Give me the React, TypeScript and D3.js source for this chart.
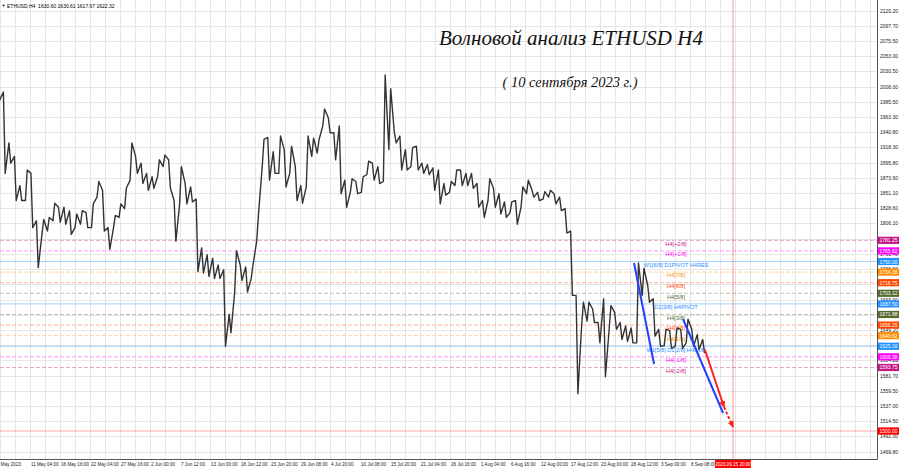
import * as d3 from "d3";
import { useEffect, useRef } from "react";

const width = 900;
const height = 468;
const plotRight = 877;
const plotBottom = 459;

const header = "ETHUSD,H4  1630.60 1630.61 1617.67 1622.32";
const title = "Волновой анализ ETHUSD H4";
const subtitle = "( 10 сентября 2023 г.)";

const priceTicks = [
  2120.2, 2097.7, 2075.5, 2053.0, 2030.5, 2008.0, 1985.5, 1963.3, 1940.8, 1918.3,
  1895.8, 1873.6, 1851.1, 1828.6, 1806.1, 1783.6, 1761.4, 1738.9, 1716.4, 1693.9,
  1671.7, 1649.2, 1626.7, 1604.2, 1581.7, 1559.5, 1537.0, 1514.5, 1492.0, 1469.8,
];

const firstDate = "5 May 2023";
const dateTicks = [
  "11 May 04:00", "16 May 16:00", "22 May 04:00", "27 May 16:00", "2 Jun 00:00",
  "7 Jun 12:00", "13 Jun 00:00", "18 Jun 12:00", "23 Jun 20:00", "29 Jun 08:00",
  "4 Jul 20:00", "10 Jul 08:00", "15 Jul 20:00", "21 Jul 04:00", "26 Jul 16:00",
  "1 Aug 04:00", "6 Aug 16:00", "12 Aug 00:00", "17 Aug 12:00", "23 Aug 00:00",
  "28 Aug 12:00", "3 Sep 00:00", "8 Sep 08:00",
];
const futureDate = "2023.09.15 20:00";
const futureDay = 133.83; // days since 5 May 00:00

// daily high / low since 5 May 2023
const dayHigh = [
  2010, 2000, 1925, 1905, 1862, 1885, 1880, 1810, 1812, 1815,
  1836, 1830, 1830, 1825, 1820, 1825, 1822, 1835, 1868, 1855,
  1800, 1818, 1835, 1858, 1925, 1905, 1895, 1880, 1875, 1900,
  1907, 1900, 1840, 1890, 1865, 1860, 1842, 1770, 1760, 1755,
  1745, 1738, 1672, 1766, 1745, 1742, 1745, 1820, 1930, 1933,
  1912, 1935, 1915, 1920, 1890, 1862, 1935, 1932, 1930, 1975,
  1962, 1940, 1950, 1870, 1872, 1868, 1875, 1898, 1895, 1890,
  2025, 2005, 1940, 1935, 1915, 1918, 1920, 1895, 1893, 1888,
  1885, 1865, 1868, 1885, 1885, 1880, 1880, 1865, 1840, 1872,
  1858, 1850, 1838, 1838, 1840, 1860, 1870, 1855, 1852, 1853,
  1855, 1850, 1845, 1828, 1795, 1700, 1690, 1690, 1680, 1660,
  1695, 1685, 1675, 1660, 1655, 1652, 1748, 1740, 1715, 1695,
  1650, 1650, 1648, 1652, 1650, 1665, 1650, 1642, 1635,
];
const dayLow = [
  1988, 1880, 1895, 1840, 1840, 1840, 1800, 1741, 1790, 1795,
  1810, 1808, 1805, 1790, 1800, 1805, 1800, 1800, 1845, 1795,
  1768, 1800, 1815, 1828, 1870, 1880, 1865, 1855, 1858, 1875,
  1890, 1858, 1780, 1835, 1835, 1838, 1735, 1733, 1728, 1725,
  1725, 1625, 1645, 1705, 1722, 1705, 1725, 1780, 1890, 1870,
  1880, 1880, 1860, 1880, 1840, 1836, 1860, 1905, 1910, 1950,
  1940, 1900, 1850, 1830, 1852, 1850, 1852, 1878, 1870, 1865,
  1868, 1915, 1925, 1885, 1885, 1890, 1885, 1880, 1878, 1855,
  1835, 1848, 1852, 1862, 1862, 1862, 1858, 1830, 1815, 1840,
  1830, 1820, 1815, 1822, 1805, 1830, 1850, 1845, 1840, 1842,
  1845, 1835, 1825, 1792, 1700, 1555, 1655, 1662, 1660, 1630,
  1580, 1650, 1650, 1635, 1632, 1630, 1630, 1700, 1690, 1640,
  1625, 1626, 1622, 1625, 1622, 1630, 1625, 1620, 1615,
];

const levelPrices = [
  1781.25, 1765.62, 1750.0, 1734.38, 1718.75, 1703.12, 1687.5,
  1671.88, 1656.25, 1640.62, 1625.0, 1609.38, 1593.75,
];
const levelNames = [
  "H4[+2/8]", "H4[+1/8]", "W1[6/8] D1PIVOT H4RES", "H4[7/8]", "H4[6/8]", "H4[5/8]",
  "D1[3/8] H4PIVOT", "H4[3/8]", "H4[2/8]", "H4[1/8]", "W1[5/8] D1[2/8] H4SUP",
  "H4[-1/8]", "H4[-2/8]",
];
const targetPrice = 1500;

// wave lines and forecast, as [day, price]
const waveLines: [number, number][][] = [
  [[115.86, 1747.8], [119.49, 1598.9]],
  [[124.75, 1665.2], [132.02, 1526.6]],
];
const forecastSolid: [number, number][] = [[128.75, 1619.5], [132.2, 1535.4]];
const forecastDashed: [number, number][] = [[132.2, 1535.4], [133.83, 1505.9]];

const font = "Liberation Sans, Arial, sans-serif";

const levelColor = (name: string) => {
  if (/PIVOT|RES|SUP/.test(name)) return "#1e90ff";
  if (/[+-]2\/8/.test(name)) return "#c71585";
  if (/[+-]1\/8/.test(name)) return "#ff00ff";
  if (/[71]\/8/.test(name)) return "#ff8c00";
  if (/[62]\/8/.test(name)) return "#ff4500";
  return "#556b2f";
};

const App = () => {
  const ref = useRef<SVGSVGElement | null>(null);

  useEffect(() => {
    if (!ref.current) return;
    const svg = d3.select(ref.current);
    svg.selectAll("*").remove();

    const y = d3.scaleLinear().domain([1469.8, 2120.2]).range([451.5, 10.5]);
    const x = d3.scaleLinear().domain([6.1667, futureDay]).range([30, 733]);
    const tickX = d3.scaleLinear().domain([0, dateTicks.length - 1]).range([30, 690]);

    const defs = svg.append("defs");
    defs.append("clipPath").attr("id", "plot")
      .append("rect").attr("x", 0).attr("y", 0).attr("width", plotRight).attr("height", plotBottom);
    defs.append("marker")
      .attr("id", "arrow").attr("viewBox", "0 0 10 10").attr("refX", 9).attr("refY", 5)
      .attr("markerWidth", 3.2).attr("markerHeight", 3.2).attr("orient", "auto")
      .append("path").attr("d", "M0,0L10,5L0,10z").attr("fill", "#ff2020");

    svg.append("rect").attr("width", width).attr("height", height).attr("fill", "#fff");

    const plot = svg.append("g").attr("clip-path", "url(#plot)");

    // grid
    const gridIdx = d3.range(-2, 29.5, 0.5);
    plot.selectAll(".vg").data(gridIdx).join("line")
      .attr("x1", (d) => Math.round(tickX(d)) + 0.5).attr("x2", (d) => Math.round(tickX(d)) + 0.5)
      .attr("y1", 0).attr("y2", plotBottom)
      .attr("stroke", "#e6e6e6").attr("stroke-width", 1);
    plot.selectAll(".hg").data(priceTicks).join("line")
      .attr("x1", 0).attr("x2", plotRight)
      .attr("y1", (d) => Math.round(y(d)) + 0.5).attr("y2", (d) => Math.round(y(d)) + 0.5)
      .attr("stroke", "#e6e6e6").attr("stroke-width", 1);

    // levels
    plot.selectAll(".lv").data(levelPrices).join("line")
      .attr("x1", 0).attr("x2", plotRight)
      .attr("y1", (d) => y(d)).attr("y2", (d) => y(d))
      .attr("stroke", (d, i) => levelColor(levelNames[i]))
      .attr("stroke-opacity", 0.4)
      .attr("stroke-width", 1)
      .attr("stroke-dasharray", (d, i) => (/PIVOT|RES|SUP/.test(levelNames[i]) ? null : "4,2"));
    plot.append("line")
      .attr("x1", 0).attr("x2", plotRight)
      .attr("y1", y(targetPrice)).attr("y2", y(targetPrice))
      .attr("stroke", "#ff0000").attr("stroke-opacity", 0.35).attr("stroke-width", 1.2);

    plot.selectAll(".lt").data(levelNames).join("text")
      .attr("x", 676).attr("y", (d, i) => y(levelPrices[i]) + 3.3)
      .attr("text-anchor", "middle").attr("dominant-baseline", "central")
      .attr("font-family", font).attr("font-size", 5.6)
      .attr("fill", (d) => levelColor(d))
      .text((d) => d);

    // future time line
    plot.append("line")
      .attr("x1", x(futureDay)).attr("x2", x(futureDay)).attr("y1", 0).attr("y2", plotBottom)
      .attr("stroke", "#ff0000").attr("stroke-opacity", 0.4).attr("stroke-width", 1);

    // price
    const pts: [number, number][] = [];
    dayHigh.forEach((h, i) => {
      const l = dayLow[i];
      const prevMid = i ? (dayHigh[i - 1] + dayLow[i - 1]) / 2 : h;
      const rising = (h + l) / 2 > prevMid;
      const cx = x(i + 0.5);
      if (rising) {
        pts.push([cx - 0.9, y(l)], [cx + 0.9, y(h)]);
      } else {
        pts.push([cx - 0.9, y(h)], [cx + 0.9, y(l)]);
      }
    });
    plot.append("path")
      .attr("d", d3.line()(pts))
      .attr("fill", "none").attr("stroke", "#333").attr("stroke-width", 1.4)
      .attr("stroke-linejoin", "round");

    // wave lines
    const line = d3.line<[number, number]>().x((d) => x(d[0])).y((d) => y(d[1]));
    waveLines.forEach((w) => {
      plot.append("path").attr("d", line(w)).attr("fill", "none")
        .attr("stroke", "#2040ff").attr("stroke-width", 2);
    });
    plot.append("path").attr("d", line(forecastSolid)).attr("fill", "none")
      .attr("stroke", "#ff2020").attr("stroke-width", 2).attr("marker-end", "url(#arrow)");
    plot.append("path").attr("d", line(forecastDashed)).attr("fill", "none")
      .attr("stroke", "#ff2020").attr("stroke-width", 2).attr("stroke-dasharray", "3,2")
      .attr("marker-end", "url(#arrow)");

    // titles
    svg.append("text").attr("x", 571).attr("y", 38)
      .attr("text-anchor", "middle").attr("dominant-baseline", "central")
      .attr("font-family", "Liberation Serif, serif").attr("font-style", "italic")
      .attr("font-size", 21).attr("fill", "#111").text(title);
    svg.append("text").attr("x", 570).attr("y", 82)
      .attr("text-anchor", "middle").attr("dominant-baseline", "central")
      .attr("font-family", "Liberation Serif, serif").attr("font-style", "italic")
      .attr("font-size", 14.5).attr("fill", "#111").text(subtitle);

    // header
    svg.append("text").attr("x", 1.5).attr("y", 5.5).attr("dominant-baseline", "central")
      .attr("font-size", 4).attr("fill", "#000").text("▼");
    svg.append("text").attr("x", 7).attr("y", 5.5).attr("dominant-baseline", "central")
      .attr("font-family", font).attr("font-size", 5)
      .attr("fill", "#000").attr("xml:space", "preserve").text(header);

    // frame
    svg.append("line").attr("x1", plotRight + 0.5).attr("x2", plotRight + 0.5)
      .attr("y1", 0).attr("y2", plotBottom + 0.5).attr("stroke", "#555");
    svg.append("line").attr("x1", 0).attr("x2", plotRight + 0.5)
      .attr("y1", plotBottom + 0.5).attr("y2", plotBottom + 0.5).attr("stroke", "#555");

    // price axis
    svg.selectAll(".pt").data(priceTicks).join("text")
      .attr("x", 880).attr("y", (d) => y(d))
      .attr("dominant-baseline", "central")
      .attr("font-family", font).attr("font-size", 5)
      .attr("fill", "#222").text((d) => d.toFixed(2));

    const boxes = svg.selectAll(".lb").data(levelPrices).join("g")
      .attr("transform", (d) => `translate(878, ${y(d)})`);
    boxes.append("rect").attr("x", 0).attr("y", -3.6).attr("width", 21).attr("height", 7.2)
      .attr("fill", (d, i) => levelColor(levelNames[i]));
    boxes.append("text").attr("x", 10.5).attr("y", 0)
      .attr("text-anchor", "middle").attr("dominant-baseline", "central")
      .attr("font-family", font).attr("font-size", 5)
      .attr("fill", "#fff").text((d) => d.toFixed(2));
    const tb = svg.append("g").attr("transform", `translate(878, ${y(targetPrice)})`);
    tb.append("rect").attr("x", 0).attr("y", -3.6).attr("width", 21).attr("height", 7.2).attr("fill", "#ff0000");
    tb.append("text").attr("x", 10.5).attr("y", 0)
      .attr("text-anchor", "middle").attr("dominant-baseline", "central")
      .attr("font-family", font).attr("font-size", 5)
      .attr("fill", "#fff").text(targetPrice.toFixed(2));

    // time axis
    svg.append("text").attr("x", -3).attr("y", 464).attr("dominant-baseline", "central")
      .attr("font-family", font).attr("font-size", 4.6)
      .attr("fill", "#222").text(firstDate);
    svg.selectAll(".dt").data(dateTicks).join("text")
      .attr("x", (d, i) => tickX(i) + 1).attr("y", 464).attr("dominant-baseline", "central")
      .attr("font-family", font).attr("font-size", 4.6)
      .attr("fill", "#222").text((d) => d);
    const fb = svg.append("g").attr("transform", `translate(${x(futureDay)}, 464)`);
    fb.append("rect").attr("x", -18).attr("y", -4).attr("width", 36).attr("height", 8).attr("fill", "#ff0000");
    fb.append("text").attr("x", 0).attr("y", 0)
      .attr("text-anchor", "middle").attr("dominant-baseline", "central")
      .attr("font-family", font).attr("font-size", 4.6)
      .attr("fill", "#fff").text(futureDate);
  }, []);

  return (
    <svg
      ref={ref}
      width={width}
      height={height}
      style={{ position: "absolute", left: 0, top: 0, display: "block" }}
    ></svg>
  );
};

export default App;
